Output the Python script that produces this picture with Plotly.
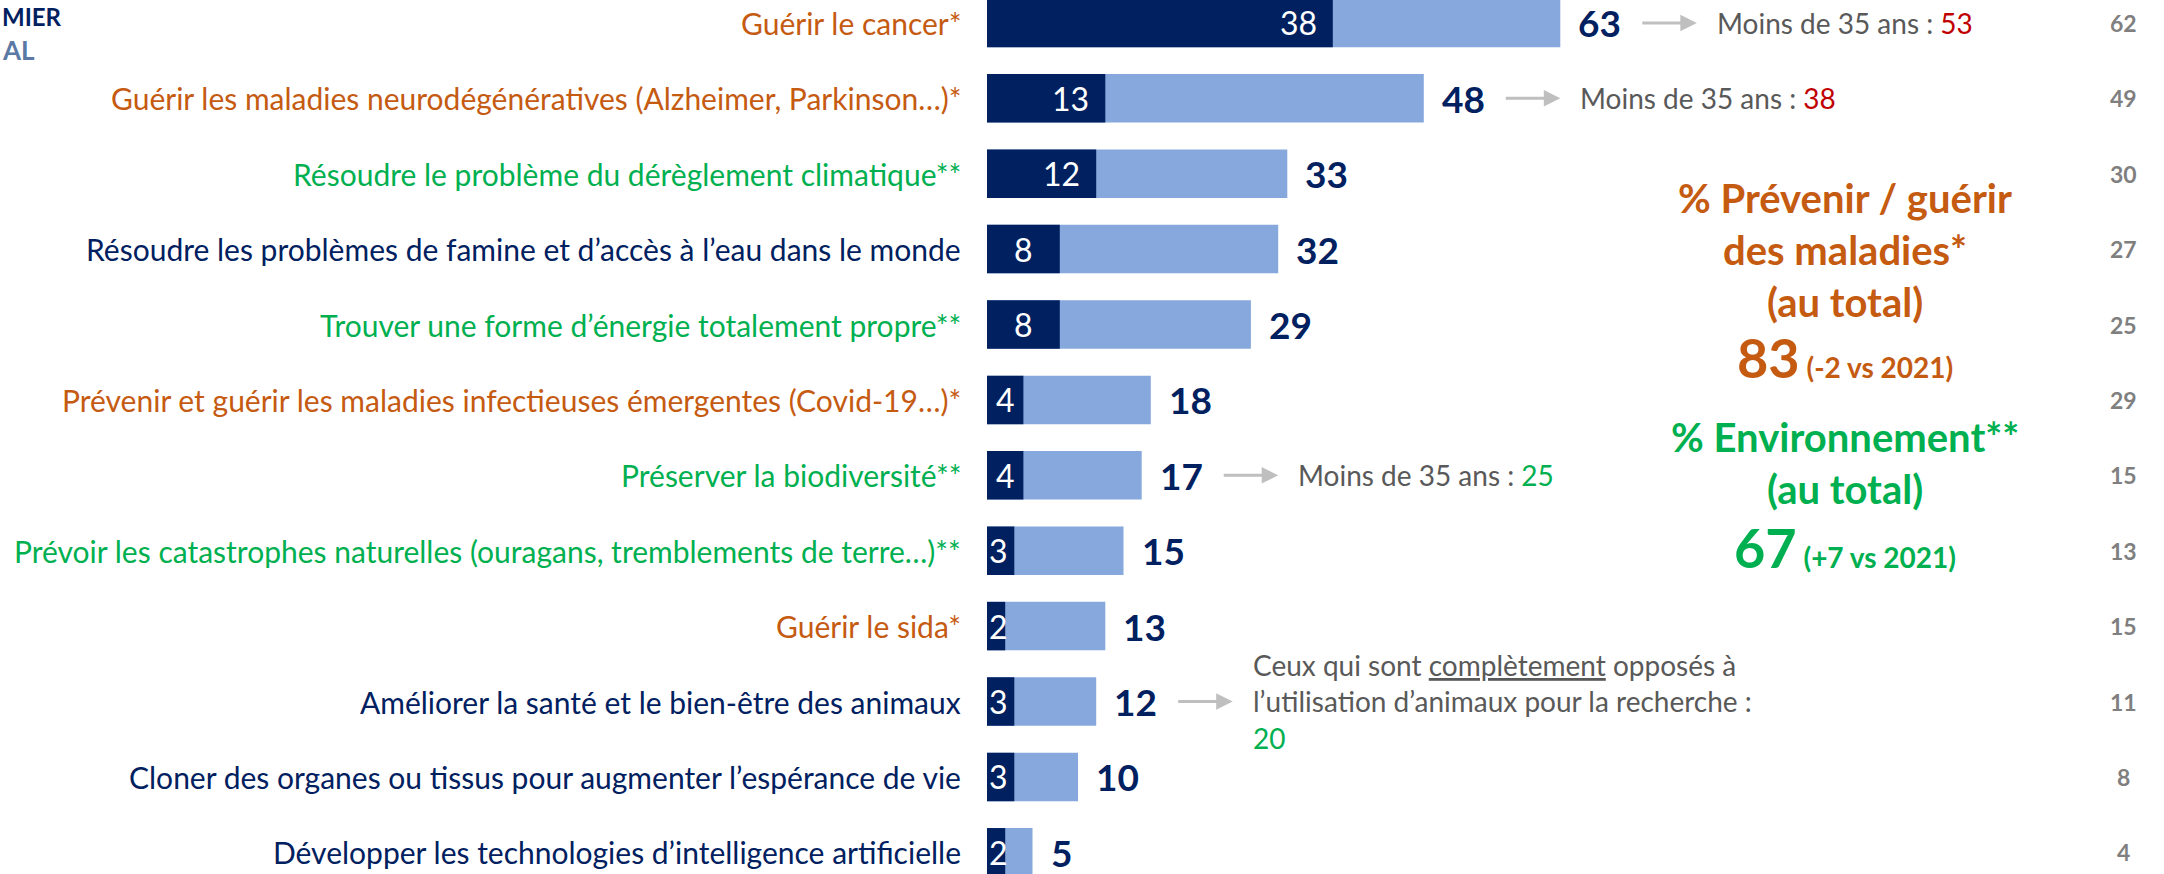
import plotly.graph_objects as go

categories = [
    "Guérir le cancer*",
    "Guérir les maladies neurodégénératives (Alzheimer, Parkinson…)*",
    "Résoudre le problème du dérèglement climatique**",
    "Résoudre les problèmes de famine et d’accès à l’eau dans le monde",
    "Trouver une forme d’énergie totalement propre**",
    "Prévenir et guérir les maladies infectieuses émergentes (Covid-19…)*",
    "Préserver la biodiversité**",
    "Prévoir les catastrophes naturelles (ouragans, tremblements de terre…)**",
    "Guérir le sida*",
    "Améliorer la santé et le bien-être des animaux",
    "Cloner des organes ou tissus pour augmenter l’espérance de vie",
    "Développer les technologies d’intelligence artificielle",
]
groups = ["sante", "sante", "env", "autre", "env", "sante", "env", "env", "sante", "autre", "autre", "autre"]
en_premier = [38, 13, 12, 8, 8, 4, 4, 3, 2, 3, 3, 2]
au_total = [63, 48, 33, 32, 29, 18, 17, 15, 13, 12, 10, 5]
rappel_2021 = [62, 49, 30, 27, 25, 29, 15, 13, 15, 11, 8, 4]

# side notes: (row index, text)
notes = [
    (0, "Moins de 35 ans : <span style='color:#C00000'>53</span>"),
    (1, "Moins de 35 ans : <span style='color:#C00000'>38</span>"),
    (6, "Moins de 35 ans : <span style='color:#00B050'>25</span>"),
    (9, "Ceux qui sont <u>complètement</u> opposés à<br>l’utilisation d’animaux pour la recherche :<br><span style='color:#00B050'>20</span>"),
]

NAVY = "#002060"
LIGHT = "#86A8DC"
ORANGE = "#C55A11"
GREEN = "#00B050"
GREY = "#595959"
colors = {"sante": ORANGE, "env": GREEN, "autre": NAVY}
FONT = "Lato, 'Open Sans', sans-serif"

W, H = 2164, 874
x0_px, px_per_unit = 987, 9.1
y0_px, pitch = 22.9, 75.4

idx = list(range(len(categories)))

fig = go.Figure()
fig.add_trace(go.Bar(y=idx, x=au_total, orientation="h", marker=dict(color=LIGHT, line=dict(width=0)),
                     width=0.643, hoverinfo="skip", showlegend=False))
fig.add_trace(go.Bar(y=idx, x=en_premier, orientation="h", marker=dict(color=NAVY, line=dict(width=0)),
                     width=0.643, hoverinfo="skip", showlegend=False))

ann = []
for i, (cat, g, p, t, r) in enumerate(zip(categories, groups, en_premier, au_total, rappel_2021)):
    ann.append(dict(x=0, y=i, xref="x", yref="y", text=cat, showarrow=False, xanchor="right",
                    xshift=-24, font=dict(family=FONT, size=30, color=colors[g])))
    # value inside dark bar
    if p >= 10:
        d = dict(x=p, xanchor="right", xshift=-14)
    elif p >= 4:
        d = dict(x=p / 2, xanchor="center", xshift=0)
    else:
        d = dict(x=0, xanchor="left", xshift=0)
    ann.append(dict(y=i, xref="x", yref="y", text=str(p), showarrow=False,
                    font=dict(family=FONT, size=32, color="white"), **d))
    # total label
    ann.append(dict(x=t, y=i, xref="x", yref="y", text=f"<b>{t}</b>", showarrow=False, xanchor="left",
                    xshift=16, font=dict(family=FONT, size=37, color=NAVY)))
    # 2021 column
    ann.append(dict(x=2123 / W, y=i, xref="paper", yref="y", text=f"<b>{r}</b>", showarrow=False,
                    xanchor="center", font=dict(family=FONT, size=23, color="#7F7F7F")))

for i, txt in notes:
    t = au_total[i]
    ann.append(dict(x=t + 15, y=i, xref="x", yref="y", text="", showarrow=True, ax=-56, ay=0,
                    arrowhead=2, arrowsize=1.1, arrowwidth=3, arrowcolor="#BFBFBF", standoff=0))
    ann.append(dict(x=t + 15, y=i, xref="x", yref="y", text=txt, showarrow=False, xanchor="left",
                    xshift=18, align="left", font=dict(family=FONT, size=28, color=GREY)))

# summary block
summary = [
    (198, "<b>% Prévenir / guérir</b>", 40, ORANGE),
    (250, "<b>des maladies*</b>", 40, ORANGE),
    (302, "<b>(au total)</b>", 40, ORANGE),
    (357, "<b><span style='font-size:54px'>83</span> (-2 vs 2021)</b>", 28, ORANGE),
    (437, "<b>% Environnement**</b>", 40, GREEN),
    (489, "<b>(au total)</b>", 40, GREEN),
    (547, "<b><span style='font-size:54px'>67</span> (+7 vs 2021)</b>", 28, GREEN),
]
for py, txt, sz, col in summary:
    ann.append(dict(x=1845 / W, y=1 - py / H, xref="paper", yref="paper", text=txt, showarrow=False,
                    xanchor="center", yanchor="middle", font=dict(family=FONT, size=sz, color=col)))

# cropped legend texts
ann.append(dict(x=0, y=1, xref="paper", yref="paper", text="<b>MIER</b>", showarrow=False,
                xanchor="left", yanchor="top", font=dict(family=FONT, size=24, color=NAVY)))
ann.append(dict(x=0, y=1 - 50 / H, xref="paper", yref="paper", text="<b>AL</b>", showarrow=False,
                xanchor="left", yanchor="middle", font=dict(family=FONT, size=26, color="#5B79A5")))

fig.update_layout(
    width=W, height=H, barmode="overlay",
    margin=dict(l=0, r=0, t=0, b=0),
    plot_bgcolor="white", paper_bgcolor="white",
    xaxis=dict(range=[-x0_px / px_per_unit, (W - x0_px) / px_per_unit], visible=False, fixedrange=True),
    yaxis=dict(range=[(H - y0_px) / pitch, -y0_px / pitch], visible=False, fixedrange=True),
    annotations=ann,
    font=dict(family=FONT),
)
fig.write_html("out.html", config={"displayModeBar": False},
               post_script="document.body.style.margin='0';document.body.style.overflow='hidden';")
